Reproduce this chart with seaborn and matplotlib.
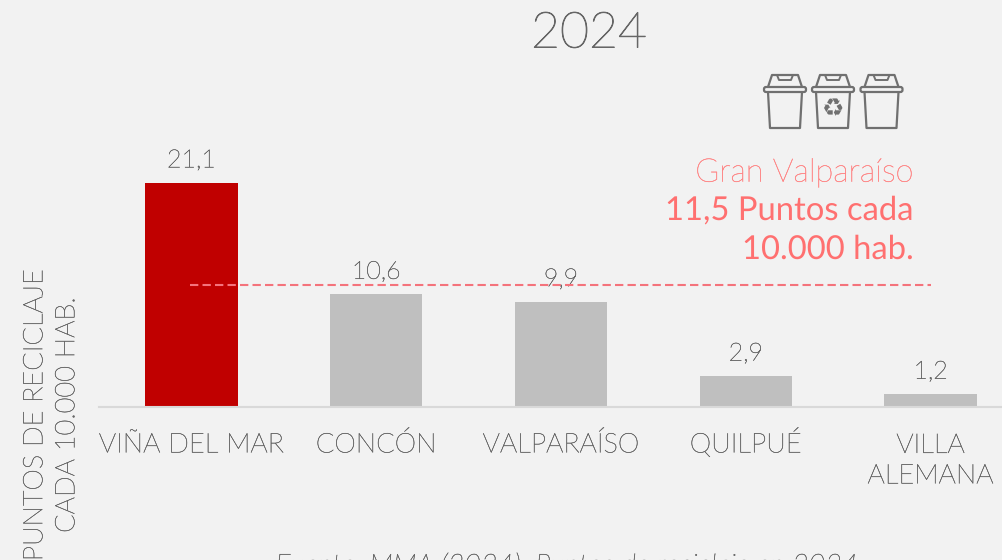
import matplotlib
matplotlib.use("Agg")
import matplotlib.pyplot as plt
import matplotlib.patheffects as pe
import seaborn as sns
import pandas as pd
from matplotlib.patches import FancyBboxPatch, Polygon

categories = ["VIÑA DEL MAR", "CONCÓN", "VALPARAÍSO", "QUILPUÉ", "VILLA\nALEMANA"]
values = [21.1, 10.6, 9.9, 2.9, 1.2]
value_labels = ["21,1", "10,6", "9,9", "2,9", "1,2"]
bar_colors = ["#C00000", "#BFBFBF", "#BFBFBF", "#BFBFBF", "#BFBFBF"]
average = 11.5

BG = "#F2F2F2"
TXT = "#666666"
W, H = 1002, 560
sns.set_theme(style="white")
plt.rcParams["font.family"] = ["Lato", "DejaVu Sans"]
plt.rcParams["font.weight"] = "light"
plt.rcParams["text.hinting"] = "no_hinting"


def thicken(color, w=0.3):
    return [pe.withStroke(linewidth=w, foreground=color)]


fig = plt.figure(figsize=(W / 100, H / 100), dpi=100, facecolor=BG)
# axes extend past the right edge of the figure, as in the reference
ax = fig.add_axes([99 / W, (H - 407) / H, 924 / W, 407 / H], facecolor=BG)
df = pd.DataFrame({"cat": categories, "val": values})
sns.barplot(data=df, x="cat", y="val", hue="cat", palette=bar_colors, legend=False,
            width=0.5, saturation=1, ax=ax, linewidth=0)
ax.set_xlim(-0.5, 4.5)
ax.set_ylim(0, 407 / 10.62)
ax.set_xlabel("")
ax.set_ylabel("")
ax.set_yticks([])
for s in ["top", "left", "right"]:
    ax.spines[s].set_visible(False)
ax.spines["bottom"].set_color("#D9D9D9")
ax.spines["bottom"].set_linewidth(1.5)
ax.tick_params(axis="x", length=0)
ax.set_xticks(range(len(categories)))
ax.set_xticklabels(categories, fontsize=19.6, color=TXT, linespacing=1.32)
for tick, lab in zip(ax.xaxis.get_major_ticks(), categories):
    tick.label1.set_verticalalignment("baseline")
    tick.label1.set_path_effects(thicken(TXT))
    tick.set_pad(55.0 if "\n" in lab else 32.7)

for i, (v, lab) in enumerate(zip(values, value_labels)):
    ax.annotate(lab, (i, v), xytext=(0, 8), textcoords="offset points",
                ha="center", va="bottom", fontsize=18, color=TXT, path_effects=thicken(TXT))

ax.plot([-0.01, 4.0], [average, average], color="#F4737C", lw=1.5, ls=(0, (4, 2)), zorder=4)

# overlay in pixel coordinates for free text and the bin icons
ov = fig.add_axes([0, 0, 1, 1], facecolor="none")
ov.set_xlim(0, W)
ov.set_ylim(H, 0)
ov.axis("off")
ov.text(589, 34, "2024", ha="center", va="center", fontsize=36, color=TXT, path_effects=thicken(TXT, 0.7))
ov.text(913.5, 173, "Gran Valparaíso", ha="right", va="center", fontsize=23.4, color="#FF8585",
        path_effects=thicken("#FF8585"))
ov.text(913.5, 210, "11,5 Puntos cada", ha="right", va="center", fontsize=23.6, color="#FF7070", fontweight="normal")
ov.text(913.5, 249, "10.000 hab.", ha="right", va="center", fontsize=23.6, color="#FF7070", fontweight="normal")
ov.text(35, 415, "PUNTOS DE RECICLAJE", rotation=90, ha="center", va="center", fontsize=19.6, color=TXT,
        path_effects=thicken(TXT))
ov.text(67, 415, "CADA 10.000 HAB.", rotation=90, ha="center", va="center", fontsize=19.6, color=TXT,
        path_effects=thicken(TXT))
ov.text(567, 566, "Fuente: MMA (2024). Puntos de reciclaje en 2024", ha="center", va="center",
        fontsize=20.6, color=TXT, style="italic", path_effects=thicken(TXT))

ICON = "#707070"
for cx in [785, 833, 881.5]:
    ov.add_patch(Polygon([(cx - 17, 87), (cx - 13, 75), (cx + 13, 75), (cx + 17, 87)], closed=False,
                         fill=False, ec=ICON, lw=1.6, joinstyle="round"))
    ov.plot([cx - 8, cx - 6, cx + 6, cx + 8], [75, 80, 80, 75], color=ICON, lw=1.4)
    ov.add_patch(FancyBboxPatch((cx - 21, 87), 42, 5, boxstyle="round,pad=0,rounding_size=2",
                                fill=False, ec=ICON, lw=1.6))
    ov.add_patch(Polygon([(cx - 17, 92), (cx - 15, 128), (cx + 15, 128), (cx + 17, 92)], closed=False,
                         fill=False, ec=ICON, lw=1.6, joinstyle="round"))
ov.text(833, 109, "\u267b", ha="center", va="center", fontsize=18, color=ICON,
        family="DejaVu Sans", fontweight="normal")

fig.savefig("out.png", dpi=100, facecolor=BG)
